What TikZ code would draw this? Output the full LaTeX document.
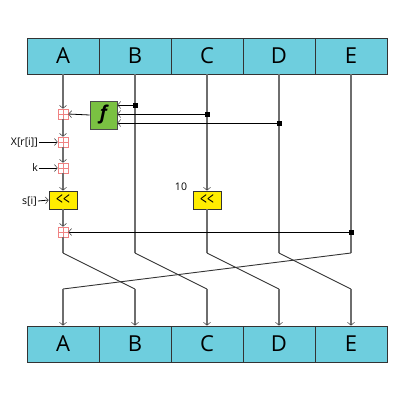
\documentclass[tikz,border=0pt]{standalone}
\usepackage{fontspec}
\setmainfont{Open Sans}
\usetikzlibrary{arrows.meta}
\definecolor{regblue}{RGB}{110,206,222}
\definecolor{fgreen}{RGB}{122,193,66}
\definecolor{ryellow}{RGB}{255,237,0}
\definecolor{addred}{RGB}{240,130,130}
\definecolor{vgray}{RGB}{110,110,110}
\newcommand{\rotsym}{\resizebox{14pt}{11pt}{<\kern0.5pt<}}
\begin{document}
\begin{tikzpicture}[x=1pt,y=-1pt,
  reg/.style={draw=black!80, fill=regblue, minimum width=72pt, minimum height=36pt, inner sep=0pt, line width=0.8pt, font=\fontsize{22}{22}\selectfont},
  adder/.style={draw=addred, fill=white, minimum size=10pt, inner sep=0pt, line width=0.6pt,
    path picture={\draw[addred,line width=0.5pt] (path picture bounding box.north) -- (path picture bounding box.south) (path picture bounding box.west) -- (path picture bounding box.east);}},
  fbox/.style={draw=black!70, fill=fgreen, minimum width=27pt, minimum height=28pt, inner sep=0pt, line width=0.8pt, font=\fontsize{19}{19}\selectfont\bfseries\itshape},
  rotbox/.style={draw=black!80, fill=ryellow, minimum width=28pt, minimum height=18pt, inner sep=0pt, line width=0.8pt, font=\fontsize{14}{14}\selectfont},
  lbl/.style={inner sep=1pt, font=\fontsize{10.5}{10.5}\selectfont},
  dot/.style={fill=black, rectangle, minimum size=5pt, inner sep=0pt},
  vl/.style={draw=vgray, line width=1.4pt},
  hl/.style={draw=black, line width=0.8pt},
  dl/.style={draw=black!80, line width=0.9pt},
  arr/.style={-{Straight Barb[length=3pt,width=7pt,line width=0.5pt,color=black!80]}}
]
\useasboundingbox (0,0) rectangle (400,400);

% registers
\node[reg] (tA) at (63,56) {A};
\node[reg] (tB) at (135,56) {B};
\node[reg] (tC) at (207,56) {C};
\node[reg] (tD) at (279,56) {D};
\node[reg] (tE) at (351,56) {E};
\node[reg] (bA) at (63,344) {A};
\node[reg] (bB) at (135,344) {B};
\node[reg] (bC) at (207,344) {C};
\node[reg] (bD) at (279,344) {D};
\node[reg] (bE) at (351,344) {E};

% operators
\node[adder] (a1) at (63,114) {};
\node[adder] (a2) at (63,142) {};
\node[adder] (a3) at (63,168) {};
\node[adder] (a4) at (63,232) {};
\node[fbox] (f) at (103.5,115) {f};
\node[rotbox] (r1) at (63,200) {\rotsym};
\node[rotbox] (r2) at (207,200) {\rotsym};

% labels
\node[lbl, anchor=east] (xr) at (39,142) {X[r[i]]};
\node[lbl, anchor=east] (kk) at (39,168) {k};
\node[lbl, anchor=east] (si) at (38,201) {s[i]};
\node[lbl] (ten) at (181,187) {10};

% bend coordinates
\coordinate (kA) at (63,253);
\coordinate (kB) at (135,253);
\coordinate (kC) at (207,253);
\coordinate (kD) at (279,253);
\coordinate (kE) at (351,253);
\coordinate (jA) at (63,289);
\coordinate (jB) at (135,289);
\coordinate (jC) at (207,289);
\coordinate (jD) at (279,289);
\coordinate (jE) at (351,289);

% tap points
\coordinate (dB) at (135,105);
\coordinate (dC) at (207,114);
\coordinate (dD) at (279,123);
\coordinate (dE) at (351,232);

% A line
\draw[vl,arr] (tA.south) -- (a1.north);
\draw[vl,arr] (a1.south) -- (a2.north);
\draw[vl,arr] (a2.south) -- (a3.north);
\draw[vl,arr] (a3.south) -- (r1.north);
\draw[vl,arr] (r1.south) -- (a4.north);
\draw[vl] (a4.south) -- (kA);
% B, C, D, E lines
\draw[vl] (tB.south) -- (kB);
\draw[vl,arr] (tC.south) -- (r2.north);
\draw[vl] (r2.south) -- (kC);
\draw[vl] (tD.south) -- (kD);
\draw[vl] (tE.south) -- (kE);

% crossing
\draw[dl] (kA) -- (jB);
\draw[dl] (kB) -- (jC);
\draw[dl] (kC) -- (jD);
\draw[dl] (kD) -- (jE);
\draw[dl] (kE) -- (jA);
\draw[vl,arr] (jA) -- (bA.north);
\draw[vl,arr] (jB) -- (bB.north);
\draw[vl,arr] (jC) -- (bC.north);
\draw[vl,arr] (jD) -- (bD.north);
\draw[vl,arr] (jE) -- (bE.north);

% taps to f
\draw[hl,arr] (dB) -- (f.east |- dB);
\draw[hl,arr] (dC) -- (f.east |- dC);
\draw[hl,arr] (dD) -- (f.east |- dD);
\draw[hl,arr] (f.west) -- (a1.east);
\draw[hl,arr] (dE) -- (a4.east);
\node[dot] at (dB) {};
\node[dot] at (dC) {};
\node[dot] at (dD) {};
\node[dot] at (dE) {};

% side inputs
\draw[hl,arr] (xr.east) -- (a2.west);
\draw[hl,arr] (kk.east) -- (a3.west);
\draw[hl,arr] (si.east) -- (r1.west);
\end{tikzpicture}
\end{document}
